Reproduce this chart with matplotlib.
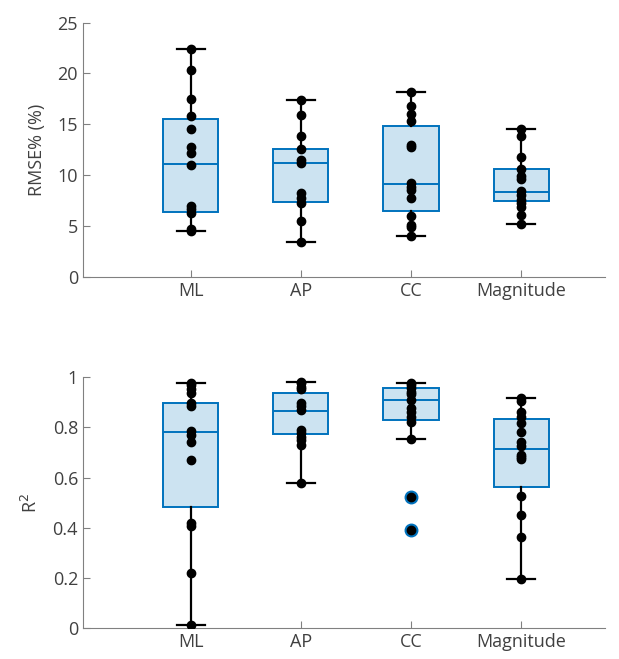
import matplotlib
matplotlib.use("Agg")
import matplotlib.pyplot as plt

plt.rcParams["font.family"] = ["Open Sans", "DejaVu Sans"]

# ---- data ----
categories = ["ML", "AP", "CC", "Magnitude"]

# RMSE% per subject
rmse_ml = [22.4, 20.3, 17.5, 15.8, 14.5, 12.8, 12.2, 11.0, 7.0, 6.7, 6.3, 4.7, 4.5]
rmse_ap = [17.35, 15.9, 13.8, 12.6, 11.5, 11.2, 8.2, 7.7, 7.3, 5.5, 3.4]
rmse_cc = [18.2, 16.8, 16.0, 15.3, 13.0, 12.8, 9.2, 8.8, 8.5, 7.7, 6.0, 5.1, 4.9, 4.0]
rmse_mag = [14.5, 13.8, 11.8, 10.6, 9.9, 9.6, 8.4, 8.0, 7.6, 7.3, 6.9, 6.05, 5.15]

# box stats (q1, median, q3, whisker low, whisker high)
rmse_q1 = [6.4, 7.35, 6.5, 7.45]
rmse_med = [11.05, 11.15, 9.1, 8.3]
rmse_q3 = [15.5, 12.6, 14.85, 10.6]
rmse_lo = [4.5, 3.4, 4.0, 5.15]
rmse_hi = [22.4, 17.35, 18.2, 14.5]
rmse_out = [[], [], [], []]

# R^2 per subject
r2_ml = [0.978, 0.968, 0.951, 0.938, 0.895, 0.885, 0.785, 0.769, 0.743, 0.670,
         0.421, 0.408, 0.222, 0.015]
r2_ap = [0.982, 0.975, 0.961, 0.951, 0.898, 0.885, 0.869, 0.789, 0.776, 0.763,
         0.75, 0.728, 0.577]
r2_cc = [0.977, 0.968, 0.955, 0.941, 0.932, 0.908, 0.875, 0.862, 0.842, 0.822,
         0.753, 0.522, 0.392]
r2_mag = [0.915, 0.906, 0.862, 0.840, 0.818, 0.783, 0.743, 0.727, 0.690, 0.681,
          0.673, 0.527, 0.451, 0.363, 0.195]

r2_q1 = [0.484, 0.772, 0.829, 0.564]
r2_med = [0.783, 0.866, 0.907, 0.714]
r2_q3 = [0.895, 0.935, 0.957, 0.832]
r2_lo = [0.015, 0.577, 0.753, 0.195]
r2_hi = [0.978, 0.982, 0.977, 0.915]
r2_out = [[], [], [0.522, 0.392], []]

BLUE = "#0072BD"
FILL = "#cce3f1"
TXT = "#404040"
SPINE = "#808080"


def draw_panel(ax, points, q1, med, q3, lo, hi, out, yticks, yticklabels, ylim, ylabel):
    pos = list(range(1, len(categories) + 1))
    stats = [dict(q1=a, med=m, q3=b, whislo=l, whishi=h, fliers=f)
             for a, m, b, l, h, f in zip(q1, med, q3, lo, hi, out)]
    ax.bxp(stats, positions=pos, widths=0.5, capwidths=0.25, patch_artist=True,
           boxprops=dict(facecolor=FILL, edgecolor=BLUE, linewidth=1.4),
           medianprops=dict(color=BLUE, linewidth=1.4),
           whiskerprops=dict(color="black", linewidth=1.6),
           capprops=dict(color="black", linewidth=1.6),
           flierprops=dict(marker="o", markerfacecolor=BLUE, markeredgecolor=BLUE,
                           markersize=9, linestyle="none"),
           zorder=2)
    for p, vals in zip(pos, points):
        ax.plot([p] * len(vals), vals, "o", color="black", markersize=6, zorder=4)

    ax.set_xlim(0.02, 4.76)
    ax.set_ylim(*ylim)
    ax.set_xticks(pos)
    ax.set_xticklabels(categories)
    ax.set_yticks(yticks)
    ax.set_yticklabels(yticklabels)
    ax.set_ylabel(ylabel, fontsize=13, color=TXT, labelpad=8)
    ax.tick_params(direction="in", length=5, width=0.8, colors=SPINE,
                   labelcolor=TXT, labelsize=13)
    for s in ("top", "right"):
        ax.spines[s].set_visible(False)
    for s in ("left", "bottom"):
        ax.spines[s].set_color(SPINE)
        ax.spines[s].set_linewidth(0.8)


fig = plt.figure(figsize=(6.19, 6.59), dpi=100)
ax1 = fig.add_axes([0.134, 0.580, 0.843, 0.3857])
ax2 = fig.add_axes([0.134, 0.0463, 0.843, 0.3816])

draw_panel(ax1, [rmse_ml, rmse_ap, rmse_cc, rmse_mag],
           rmse_q1, rmse_med, rmse_q3, rmse_lo, rmse_hi, rmse_out,
           [0, 5, 10, 15, 20, 25], ["0", "5", "10", "15", "20", "25"],
           (0, 25), "RMSE% (%)")
draw_panel(ax2, [r2_ml, r2_ap, r2_cc, r2_mag],
           r2_q1, r2_med, r2_q3, r2_lo, r2_hi, r2_out,
           [0, 0.2, 0.4, 0.6, 0.8, 1], ["0", "0.2", "0.4", "0.6", "0.8", "1"],
           (0, 1), "R$^2$")

fig.savefig("out.png", dpi=100)
